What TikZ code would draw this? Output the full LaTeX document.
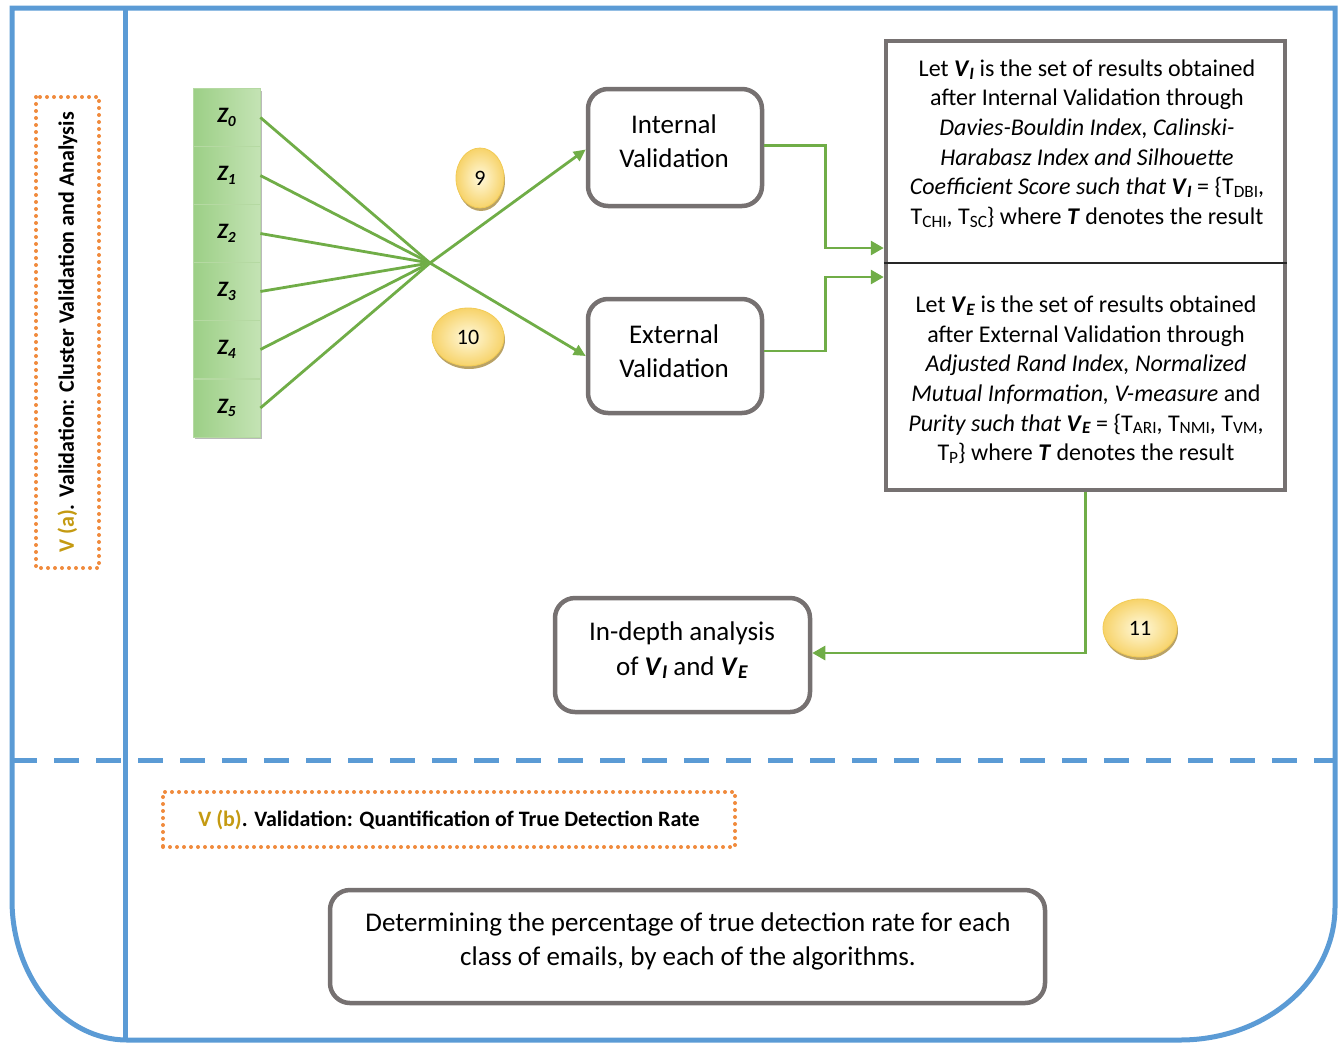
\documentclass[tikz,border=0pt]{standalone}
\usepackage{fontspec}
\setmainfont{Carlito}
\usetikzlibrary{shapes.geometric,arrows.meta,calc,shadows}

\definecolor{frameblue}{HTML}{5B9BD5}
\definecolor{linkgreen}{HTML}{70AD47}
\definecolor{boxgray}{HTML}{767171}
\definecolor{dotorange}{HTML}{F08A3C}
\definecolor{gold}{HTML}{C49A12}
\definecolor{zgreenD}{HTML}{9CCF86}
\definecolor{zgreenM}{HTML}{E6F3DE}
\definecolor{zgreenL}{HTML}{C4E3B4}
\definecolor{zgreenE}{HTML}{B5D9A2}
\definecolor{badgeIn}{HTML}{FFF9DC}
\definecolor{badgeOut}{HTML}{F7D36A}
\definecolor{badgeEdge}{HTML}{F2CB55}
\definecolor{badgeShadow}{HTML}{B9A266}

% small lowered index used in the result sets
\newcommand\lowidx[1]{\raisebox{-0.25ex}{\scalebox{0.72}{#1}}}
\newcommand\setVI{\textbf{\textit{V}}\lowidx{\textbf{\textit{I}}}}
\newcommand\setVE{\textbf{\textit{V}}\lowidx{\textbf{\textit{E}}}}
\newcommand\zlab[1]{Z\raisebox{-0.35ex}{\scalebox{0.7}{#1}}}

\begin{document}
\begin{tikzpicture}[x=1pt,y=-1pt,
  frame/.style={draw=frameblue,line width=5pt},
  tag/.style={draw=dotorange,line width=4pt,line cap=round,dash pattern=on 0pt off 7pt,
    inner sep=0pt,font=\fontsize{22}{24}\selectfont\bfseries},
  zbox/.style={rectangle,minimum width=67pt,minimum height=58pt,inner sep=0pt,
    left color=zgreenD,middle color=zgreenM,right color=zgreenL,draw=zgreenE,line width=0.8pt,
    drop shadow={shadow xshift=2pt,shadow yshift=-2pt,fill=black!45,opacity=0.6},
    font=\fontsize{22}{24}\selectfont\bfseries\itshape},
  roundbox/.style={draw=boxgray,line width=4.5pt,rounded corners=20pt,fill=white,inner sep=0pt},
  boxtext/.style={align=center,inner sep=0pt,font=\fontsize{27}{34.5}\selectfont},
  rtext/.style={align=center,inner sep=0pt,font=\fontsize{24}{29.6}\selectfont},
  link/.style={draw=linkgreen,line width=2.8pt},
  tip/.style={-{Triangle[length=13pt,width=14pt]}},
  badge/.style={ellipse,inner sep=0pt,shade,inner color=badgeIn,outer color=badgeOut,
    draw=badgeEdge,line width=0.8pt,
    drop shadow={shadow xshift=1pt,shadow yshift=-3pt,fill=badgeShadow,opacity=1},
    font=\fontsize{22}{24}\selectfont}
]
\useasboundingbox (0,0) rectangle (1341,1045);

% outer frame with rounded lower corners
\draw[frame] (12,8) -- (12,900)
  arc[start angle=180,end angle=90,x radius=115,y radius=140]
  -- (1180,1040)
  arc[start angle=90,end angle=0,x radius=155,y radius=133]
  -- (1335,8) -- cycle;
\draw[frame] (125,8) -- (125,1040);
\draw[frame,dash pattern=on 25pt off 17pt] (12,760) -- (1335,760);

% section tags
\node[tag,rotate=90,minimum width=471pt,minimum height=63pt] (taga) at (67.5,332.5)
  {\textcolor{gold}{V (a)}. Validation: Cluster Validation and Analysis};
\node[tag,minimum width=572pt,minimum height=55pt] (tagb) at (449,819.5)
  {\textcolor{gold}{V (b)}. Validation: Quantification of True Detection Rate};

% cluster stack
\node[zbox] (z0) at (226.5,117.5) {\zlab{0}};
\node[zbox] (z1) at (226.5,175.5) {\zlab{1}};
\node[zbox] (z2) at (226.5,233.5) {\zlab{2}};
\node[zbox] (z3) at (226.5,291.5) {\zlab{3}};
\node[zbox] (z4) at (226.5,349.5) {\zlab{4}};
\node[zbox] (z5) at (226.5,408) {\zlab{5}};

\coordinate (hub) at (430,263);

% validation boxes
\node[roundbox,minimum width=174pt,minimum height=117pt] (iv) at (675,147.5) {};
\node[boxtext] (ivt) at (674,141) {Internal\\Validation};
\node[roundbox,minimum width=174pt,minimum height=114pt] (ev) at (675,356) {};
\node[boxtext] (evt) at (674,351) {External\\Validation};

\node[draw=boxgray,line width=4.5pt,fill=white,minimum width=399pt,minimum height=449pt,inner sep=0pt]
  (rb) at (1085.5,265.5) {};
\draw[line width=1.5pt,black!85] (rb.west |- 0,263) -- (rb.east |- 0,263);
\node[rtext] (vi) at (1087,143.5) {Let \setVI{} is the set of results obtained\\
  after Internal Validation through\\
  \textit{Davies-Bouldin Index, Calinski-}\\
  \textit{Harabasz Index and Silhouette}\\
  \textit{Coefficient Score such that} \setVI{} = \{T\lowidx{DBI},\\
  T\lowidx{CHI}, T\lowidx{SC}\} where \textbf{\textit{T}} denotes the result};
\node[rtext] (ve) at (1086,380) {Let \setVE{} is the set of results obtained\\
  after External Validation through\\
  \textit{Adjusted Rand Index, Normalized}\\
  \textit{Mutual Information, V-measure} and\\
  \textit{Purity such that} \setVE{} = \{T\lowidx{ARI}, T\lowidx{NMI}, T\lowidx{VM},\\
  T\lowidx{P}\} where \textbf{\textit{T}} denotes the result};

\node[roundbox,minimum width=255pt,minimum height=114pt] (ida) at (682.5,655) {};
\node[boxtext] (idat) at (682,650) {In-depth analysis\\of \setVI{} and \setVE{}};
\node[roundbox,minimum width=715pt,minimum height=113pt] (det) at (687.5,946.5) {};
\node[boxtext] (dett) at (688,941.5)
  {Determining the percentage of true detection rate for each\\class of emails, by each of the algorithms.};

% connectors
\foreach \z in {z0,z1,z2,z3,z4,z5}
  \draw[link] (\z.east) -- (hub);
\draw[link,-{Triangle[length=12pt,width=11pt]}] (hub) -- ($(iv.west)+(0,2)$);
\draw[link,-{Triangle[length=12pt,width=11pt]}] (hub) -- (ev.west);
\draw[link,tip] ($(iv.east)+(0,-2)$) -- ++(61,0) |- ($(rb.west)+(0,-17.5)$);
\draw[link,tip] ($(ev.east)+(0,-5)$) -- ++(61,0) |- ($(rb.west)+(0,11.5)$);
\draw[link,tip] (rb.south) |- ($(ida.east)+(0,-2)$);

% step badges
\node[badge,minimum width=48pt,minimum height=60pt] (b9) at (480,178) {9};
\node[badge,minimum width=72pt,minimum height=58pt] (b10) at (468,337) {10};
\node[badge,minimum width=74pt,minimum height=58pt] (b11) at (1140,628) {11};
\end{tikzpicture}
\end{document}
